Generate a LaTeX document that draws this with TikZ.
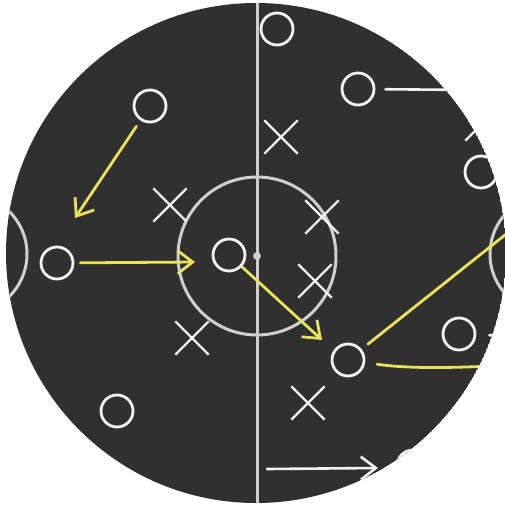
\documentclass[tikz,border=0pt]{standalone}
\usepackage{tikz}
\usetikzlibrary{arrows.meta,shapes.misc}
\definecolor{board}{HTML}{303030}
\definecolor{chalk}{HTML}{F2F2F2}
\definecolor{chalkyellow}{HTML}{E8E25C}
\definecolor{pitchline}{HTML}{CFCFCF}
\tikzset{
  player/.style={circle,draw=chalk,line width=2.8pt,minimum size=32pt,inner sep=0pt},
  rival/.style={cross out,draw=chalk,line width=2.4pt,minimum size=31pt,inner sep=0pt},
  run/.style={draw=chalkyellow,line width=2.8pt,line cap=round},
  pass/.style={draw=chalk,line width=2.6pt,line cap=round},
  barb/.style={-{Straight Barb[length=15pt,width=23pt]}},
  pitch/.style={draw=pitchline,line width=3pt}
}

\begin{document}
\begin{tikzpicture}[x=1pt,y=-1pt]
    \useasboundingbox[fill=white] (0,0) rectangle (504,508);
    \begin{scope}
      \clip (256,253) circle[radius=250pt];
      \fill[board] (256,253) circle[radius=250pt];
      \draw[pitch] (257,0) -- (257,508);
      \draw[pitch] (257,256) circle[radius=79pt];
      \fill[pitchline] (257,256) circle[radius=4pt];
      \draw[pitch] (-33,254) circle[radius=60pt];
      \draw[pitch] (550,254) circle[radius=60pt];

      \node[player] (o1) at (150,106) {};
      \node[player] (o2) at (57,263) {};
      \node[player] (o3) at (229,255) {};
      \node[player] (o4) at (277,29) {};
      \node[player] (o5) at (358,89) {};
      \node[player] (o6) at (481,172) {};
      \node[player] (o7) at (459,334) {};
      \node[player] (o8) at (348,360) {};
      \node[player] (o9) at (117,411) {};
      \node[player] (o10) at (413,466) {};

      \node[rival] (x1) at (170,205) {};
      \node[rival] (x2) at (281,137) {};
      \node[rival] (x3) at (322,217) {};
      \node[rival] (x4) at (315,281) {};
      \node[rival] (x5) at (192,338) {};
      \node[rival] (x6) at (308,403) {};
      \node[rival] (x7) at (482,124) {};

      \coordinate (t1) at (75,218);
      \coordinate (t2) at (195,262);
      \coordinate (t3) at (322,340);
      \coordinate (e1) at (515,227);
      \coordinate (e2) at (512,365);
      \coordinate (e3) at (470,90);
      \coordinate (e4) at (510,336);
      \coordinate (b1) at (267,469);
      \coordinate (b2) at (378,468);

      \draw[run,barb,shorten <=7pt] (o1) -- (t1);
      \draw[run,barb,shorten <=6pt] (o2) -- (t2);
      \draw[run,barb] (o3) -- (t3);
      \draw[run,shorten <=8pt] (o8) -- (e1);
      \draw[run,shorten <=12pt] (o8) .. controls (410,369) and (455,368) .. (e2);
      \draw[pass,shorten <=10pt] (o5) -- (e3);
      \draw[pass,shorten <=13pt] (o7) -- (e4);
      \draw[pass,barb] (b1) -- (b2);
    \end{scope}
  \end{tikzpicture}
\end{document}
